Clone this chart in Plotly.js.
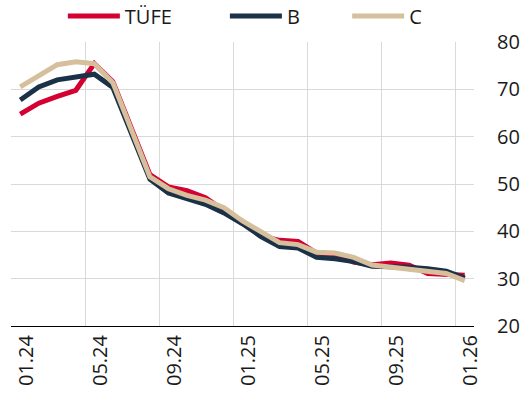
<!DOCTYPE html>
<html>
<head>
<meta charset="utf-8">
<script src="https://cdn.plot.ly/plotly-3.0.1.min.js"></script>
<style>html,body{margin:0;padding:0;background:#fff;}#chart{width:526px;height:406px;}</style>
</head>
<body>
<div id="chart"></div>
<script>
const months = ["01.24","02.24","03.24","04.24","05.24","06.24","07.24","08.24","09.24","10.24","11.24","12.24",
                "01.25","02.25","03.25","04.25","05.25","06.25","07.25","08.25","09.25","10.25","11.25","12.25","01.26"];
const tickLabels = ["01.24","05.24","09.24","01.25","05.25","09.25","01.26"];
const tufe = [64.77,67.07,68.50,69.80,75.45,71.60,61.78,51.97,49.38,48.58,47.09,44.38,42.12,39.05,38.10,37.86,35.41,35.05,33.52,32.95,33.29,32.87,31.07,30.89,30.7];
const bIdx = [67.75,70.5,72.0,72.7,73.2,70.4,60.9,51.0,48.1,46.8,45.7,43.9,41.6,38.9,36.8,36.5,34.5,34.2,33.6,32.6,32.6,32.4,32.1,31.6,30.1];
const cIdx = [70.5,72.9,75.2,75.8,75.4,71.4,61.5,51.5,49.0,47.6,46.6,45.0,42.2,39.8,37.6,37.2,35.6,35.4,34.5,32.9,32.5,32.1,31.6,31.1,29.6];

const names = ["TÜFE","B","C"];
const colors = ["#d50032","#1b3147","#d6bf9c"];
const series = [tufe,bIdx,cIdx];
const legendIds = ["legend","legend2","legend3"];
const legendX = [0.112, 0.462, 0.726];

const traces = series.map((s,i)=>({
  type:"scatter", mode:"lines", x:months, y:s, name:names[i],
  legend:legendIds[i],
  line:{color:colors[i], width:5}
}));

function legendCfg(x){
  return {orientation:"h", x:x, xanchor:"left", yref:"container", y:1-16/406, yanchor:"middle",
          font:{size:20, family:"Open Sans, sans-serif", color:"#1a1a1a"}, itemwidth:52,
          bgcolor:"rgba(0,0,0,0)", borderwidth:0};
}

const layout = {
  width:526, height:406,
  margin:{l:11, r:52, t:42, b:80},
  paper_bgcolor:"#fff", plot_bgcolor:"#fff",
  font:{family:"Open Sans, sans-serif", size:20, color:"#1a1a1a"},
  showlegend:true,
  legend:legendCfg(legendX[0]),
  legend2:legendCfg(legendX[1]),
  legend3:legendCfg(legendX[2]),
  xaxis:{type:"category", categoryarray:months, range:[-0.5,24.5],
         tickmode:"array", tickvals:tickLabels, ticktext:tickLabels,
         tickson:"boundaries", ticks:"", tickangle:-90,
         showgrid:true, gridcolor:"#d9d9d9", gridwidth:1,
         showline:true, linecolor:"#000", linewidth:1, zeroline:false,
         ticklabelshift:6, fixedrange:true},
  yaxis:{side:"right", range:[20,80], dtick:10, tick0:20,
         showgrid:true, gridcolor:"#d9d9d9", gridwidth:1,
         zeroline:false, showline:false, ticks:"", ticklabelstandoff:22, fixedrange:true}
};
Plotly.newPlot("chart", traces, layout, {displayModeBar:false, staticPlot:true});
</script>
</body>
</html>
